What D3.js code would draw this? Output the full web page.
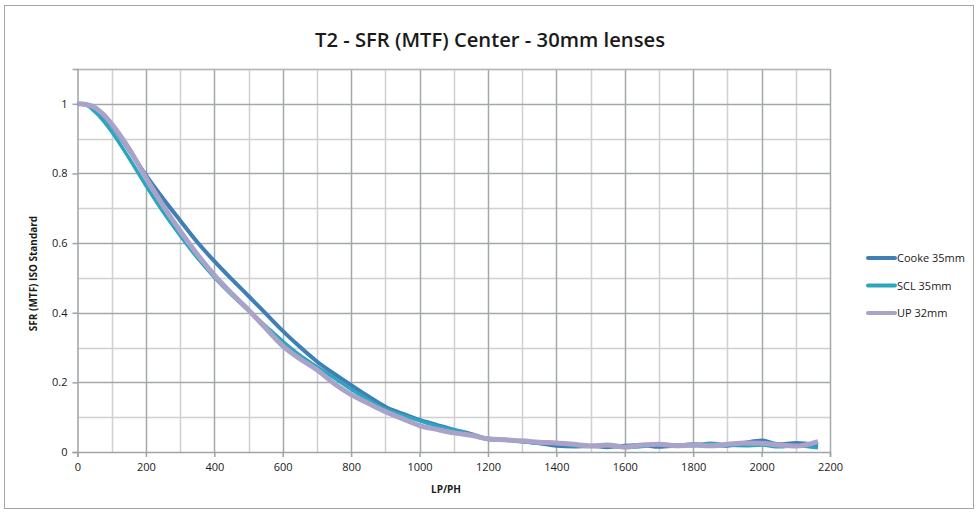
<!DOCTYPE html>
<html>
<head>
<meta charset="utf-8">
<script src="https://cdn.jsdelivr.net/npm/d3@7"></script>
<style>
  html, body { margin: 0; padding: 0; background: #fff; }
  svg { display: block; }
  text { font-family: "Open Sans", "Liberation Sans", sans-serif; fill: #1a1a1a; }
</style>
</head>
<body>
<svg id="chart" width="980" height="515"></svg>
<script>
// Spatial frequency samples (line pairs per picture height)
const lpph = [0,25,50,75,100,150,200,250,300,350,400,450,500,550,600,650,700,750,800,850,900,950,1000,1050,1100,1150,1200,1250,1300,1350,1400,1450,1500,1550,1600,1650,1700,1750,1800,1850,1900,1950,2000,2050,2100,2165];

// Measured SFR per lens
const cooke35 = [1.0,0.998,0.985,0.965,0.938,0.868,0.795,0.728,0.665,0.603,0.548,0.497,0.448,0.398,0.348,0.302,0.26,0.225,0.192,0.16,0.13,0.11,0.092,0.078,0.064,0.052,0.038,0.035,0.03,0.025,0.018,0.016,0.017,0.014,0.018,0.02,0.015,0.018,0.022,0.02,0.018,0.026,0.033,0.022,0.026,0.02];
const scl35 = [1.0,0.996,0.978,0.952,0.92,0.845,0.765,0.69,0.622,0.558,0.502,0.452,0.407,0.362,0.318,0.278,0.245,0.213,0.18,0.15,0.123,0.106,0.09,0.075,0.063,0.05,0.036,0.034,0.03,0.025,0.025,0.018,0.016,0.018,0.013,0.016,0.022,0.02,0.018,0.025,0.02,0.018,0.02,0.015,0.018,0.012];
const up32 = [1.0,0.998,0.99,0.97,0.942,0.872,0.788,0.708,0.635,0.568,0.508,0.456,0.408,0.356,0.305,0.268,0.236,0.197,0.165,0.14,0.116,0.096,0.076,0.065,0.055,0.048,0.038,0.035,0.032,0.028,0.026,0.022,0.018,0.02,0.014,0.02,0.022,0.018,0.02,0.018,0.022,0.026,0.025,0.02,0.017,0.03];

const seriesNames = ["Cooke 35mm", "SCL 35mm", "UP 32mm"];
const seriesValues = [cooke35, scl35, up32];
const seriesColors = ["#3f7fb5", "#2ba6be", "#a9a2c9"];
const seriesWidths = [4, 3.5, 5];

const xTicks = [0,200,400,600,800,1000,1200,1400,1600,1800,2000,2200];
const yTicks = [0,0.2,0.4,0.6,0.8,1];

const svg = d3.select("#chart");

// Outer chart frame
svg.append("rect")
  .attr("x", 4.5).attr("y", 5.5)
  .attr("width", 969).attr("height", 503)
  .attr("fill", "#fff").attr("stroke", "#a6a6a6").attr("stroke-width", 1);

const plot = { left: 77.5, right: 830, top: 69, bottom: 452 };

const x = d3.scaleLinear().domain([0, 2200]).range([plot.left, plot.right]);
const y = d3.scaleLinear().domain([0, 1.1]).range([plot.bottom, plot.top]);

// Grid: minor lines first, major on top
const g = svg.append("g");
const minorX = d3.range(100, 2200, 200);
const minorY = d3.range(0.1, 1.15, 0.2);
g.selectAll(".mx").data(minorX).enter().append("line")
  .attr("x1", d => Math.round(x(d)) + 0.5).attr("x2", d => Math.round(x(d)) + 0.5)
  .attr("y1", plot.top).attr("y2", plot.bottom)
  .attr("stroke", "#d0d0d0").attr("stroke-width", 1.5);
g.selectAll(".my").data(minorY).enter().append("line")
  .attr("y1", d => Math.round(y(d)) + 0.5).attr("y2", d => Math.round(y(d)) + 0.5)
  .attr("x1", plot.left).attr("x2", plot.right)
  .attr("stroke", "#d0d0d0").attr("stroke-width", 1.5);
g.selectAll(".Mx").data(xTicks.slice(1)).enter().append("line")
  .attr("x1", d => Math.round(x(d)) + 0.5).attr("x2", d => Math.round(x(d)) + 0.5)
  .attr("y1", plot.top).attr("y2", plot.bottom)
  .attr("stroke", "#a3a8a8").attr("stroke-width", 1.5);
g.selectAll(".My").data(yTicks.slice(1)).enter().append("line")
  .attr("y1", d => Math.round(y(d)) + 0.5).attr("y2", d => Math.round(y(d)) + 0.5)
  .attr("x1", plot.left).attr("x2", plot.right)
  .attr("stroke", "#a3a8a8").attr("stroke-width", 1.5);
// top edge of plot
g.append("line")
  .attr("x1", plot.left).attr("x2", plot.right)
  .attr("y1", plot.top + 0.5).attr("y2", plot.top + 0.5)
  .attr("stroke", "#b8b8b8").attr("stroke-width", 1.5);

// Axes
const xAxis = d3.axisBottom(x).tickValues(xTicks).tickSize(5).tickPadding(6).tickFormat(d3.format("d"));
const yAxis = d3.axisLeft(y).tickValues(yTicks).tickSize(5).tickPadding(5).tickFormat(d => d3.format("")(+d.toFixed(1)));

const xa = svg.append("g").attr("transform", `translate(0,${plot.bottom})`).call(xAxis);
const ya = svg.append("g").attr("transform", `translate(${plot.left},0)`).call(yAxis);
[xa, ya].forEach(a => {
  a.select(".domain").attr("stroke", "#9ea3a3").attr("stroke-width", 1.5);
  a.selectAll(".tick line").attr("stroke", "#9ea3a3").attr("stroke-width", 1.5);
  a.selectAll(".tick text").attr("font-size", 11).attr("fill", "#1a1a1a")
    .attr("font-family", "'Open Sans', sans-serif");
});

// Curves
const line = d3.line()
  .x((d, i) => x(lpph[i]))
  .y(d => y(d))
  .curve(d3.curveMonotoneX);

seriesValues.forEach((vals, k) => {
  svg.append("path")
    .datum(vals)
    .attr("d", line)
    .attr("fill", "none")
    .attr("stroke", seriesColors[k])
    .attr("stroke-width", seriesWidths[k])
    .attr("stroke-linejoin", "round");
});

// Title and axis titles
svg.append("text")
  .attr("x", 490).attr("y", 47)
  .attr("text-anchor", "middle")
  .attr("font-family", "'Open Sans', sans-serif")
  .attr("font-weight", 600)
  .attr("font-size", 19)
  .attr("textLength", 350)
  .attr("lengthAdjust", "spacingAndGlyphs")
  .text("T2 - SFR (MTF) Center - 30mm lenses");

svg.append("text")
  .attr("x", 446).attr("y", 493)
  .attr("text-anchor", "middle")
  .attr("font-weight", 700)
  .attr("font-size", 10)
  .text("LP/PH");

svg.append("text")
  .attr("transform", `translate(37,${(plot.top + plot.bottom) / 2 + 13}) rotate(-90)`)
  .attr("text-anchor", "middle")
  .attr("font-weight", 700)
  .attr("font-size", 10)
  .text("SFR (MTF) ISO Standard");

// Legend
const legend = svg.append("g");
seriesNames.forEach((name, k) => {
  const ly = 258 + k * 27.5;
  legend.append("line")
    .attr("x1", 868).attr("x2", 895)
    .attr("y1", ly).attr("y2", ly)
    .attr("stroke", seriesColors[k]).attr("stroke-width", 4)
    .attr("stroke-linecap", "round");
  legend.append("text")
    .attr("x", 897).attr("y", ly + 4)
    .attr("font-size", 11)
    .text(name);
});
</script>
</body>
</html>
